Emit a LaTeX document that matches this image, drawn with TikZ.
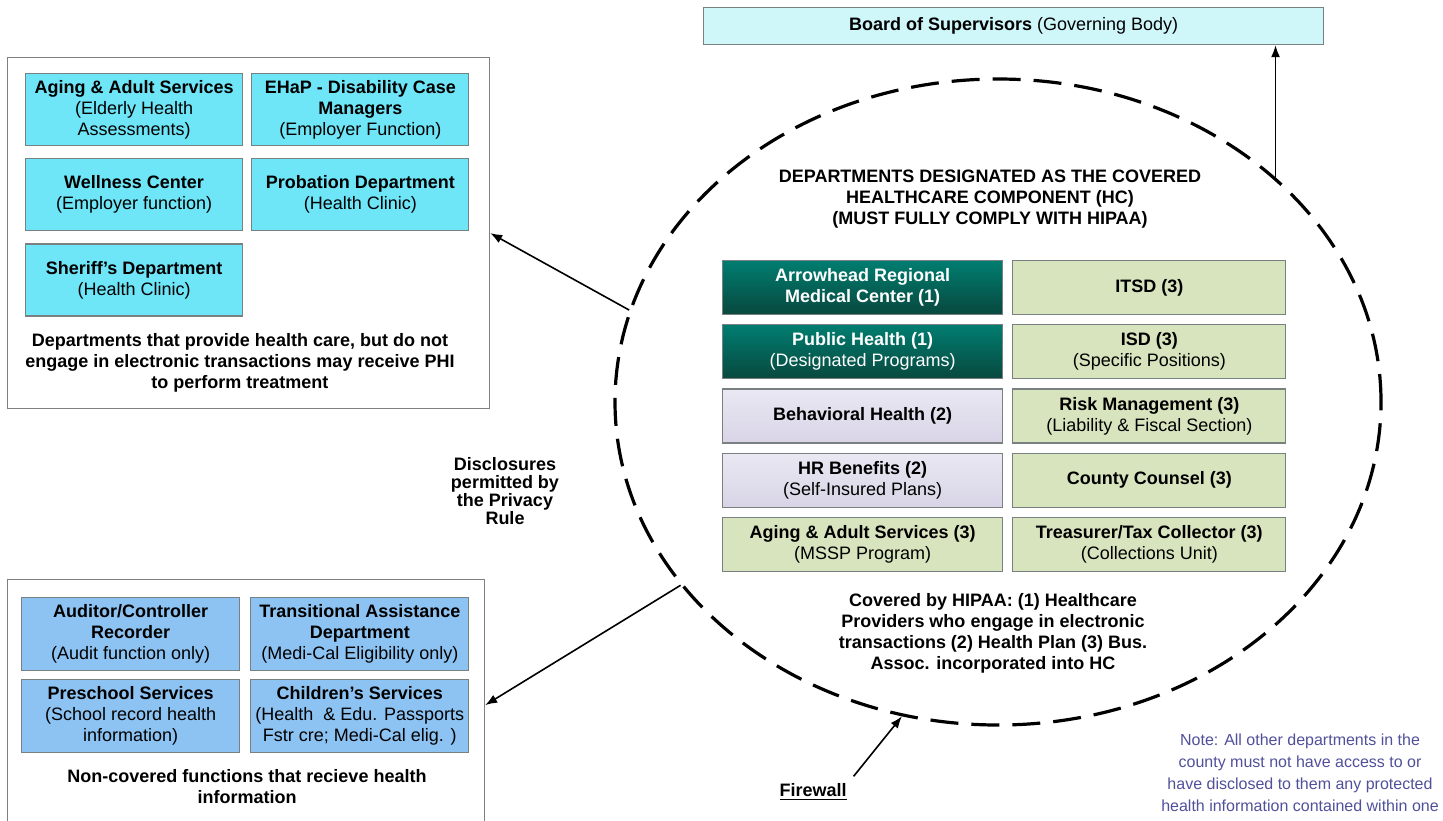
\documentclass[tikz,border=0pt]{standalone}
\usepackage{fontspec}
\setmainfont{Liberation Sans}
\usetikzlibrary{positioning}
\usetikzlibrary{shapes.geometric}
\usetikzlibrary{arrows.meta}

\definecolor{cyanbox}{RGB}{110,230,248}
\definecolor{bluebox}{RGB}{141,195,242}
\definecolor{boardfill}{RGB}{207,247,250}
\definecolor{tealtop}{RGB}{0,125,112}
\definecolor{tealbot}{RGB}{8,72,62}
\definecolor{lavtop}{RGB}{234,232,243}
\definecolor{lavbot}{RGB}{216,212,230}
\definecolor{olivefill}{RGB}{216,228,190}
\definecolor{notecol}{RGB}{80,80,155}
\definecolor{edgegray}{RGB}{120,128,130}
\definecolor{framegray}{RGB}{128,128,128}

\begin{document}
\begin{tikzpicture}[x=0.5pt, y=-0.5pt,
    every node/.style={font=\fontsize{9}{10.5}\selectfont, align=center},
    boldtext/.style={font=\fontsize{9}{10.5}\selectfont\bfseries},
    outerbox/.style={draw=framegray, line width=0.6pt, fill=white, anchor=north west, inner sep=0pt},
    deptbox/.style={draw=edgegray, line width=0.6pt, inner sep=1pt, minimum width=108.5pt, minimum height=36pt, fill=cyanbox},
    nonbox/.style={deptbox, fill=bluebox, minimum width=109pt, minimum height=36.5pt},
    boardbox/.style={draw=edgegray, line width=0.6pt, fill=boardfill, anchor=north west, minimum width=310pt, minimum height=18.5pt},
    hcbox/.style={draw=edgegray, line width=0.6pt, inner sep=1pt, minimum width=140pt, minimum height=27pt},
    tealbox/.style={hcbox, top color=tealtop, bottom color=tealbot, text=white},
    lavbox/.style={hcbox, top color=lavtop, bottom color=lavbot},
    olivebox/.style={hcbox, fill=olivefill, minimum width=136.5pt},
    hcring/.style={ellipse, draw, line width=1.6pt, dash pattern=on 14pt off 6.5pt, minimum width=383pt, minimum height=323pt, inner sep=0pt},
    arr/.style={-{Latex[length=6pt,width=4.5pt]}, line width=0.8pt}
  ]

    \useasboundingbox (0,0) rectangle (1443,820);

    %nodes: departments that provide health care
    \node[outerbox, minimum width=241pt, minimum height=175.5pt] (tlframe) at (7,57) {};
    \node[deptbox, anchor=north west] (aas) at (25,73) {\textbf{Aging \& Adult Services}\\(Elderly Health\\Assessments)};
    \node[deptbox, right=4pt of aas] (ehap) {\textbf{EHaP - Disability Case}\\\textbf{Managers}\\(Employer Function)};
    \node[deptbox, below=6pt of aas] (wc) {\textbf{Wellness Center}\\(Employer function)};
    \node[deptbox, below=6pt of ehap] (prob) {\textbf{Probation Department}\\(Health Clinic)};
    \node[deptbox, below=6pt of wc] (sheriff) {\textbf{Sheriff's Department}\\(Health Clinic)};
    \node[boldtext] (tlcap) at (240,363) {Departments that provide health care, but do not\\engage in electronic transactions may receive PHI\\to perform treatment};

    %nodes: non-covered functions
    \node[outerbox, minimum width=238.5pt, minimum height=125.5pt] (blframe) at (7,579) {};
    \node[nonbox, anchor=north west] (audit) at (21,597) {\textbf{Auditor/Controller}\\\textbf{Recorder}\\(Audit function only)};
    \node[nonbox, right=5pt of audit] (tad) {\textbf{Transitional Assistance}\\\textbf{Department}\\(Medi-Cal Eligibility only)};
    \node[nonbox, below=4pt of audit] (psd) {\textbf{Preschool Services}\\(School record health\\information)};
    \node[nonbox, below=4pt of tad] (cs) {\textbf{Children's Services}\\(Health~~\& Edu. Passports\\Fstr cre; Medi-Cal elig. )};
    \node[boldtext] (blcap) at (247,787) {Non-covered functions that recieve health\\information};

    %nodes: governing body
    \node[boardbox] (board) at (703,7) {\textbf{Board of Supervisors} (Governing Body)};

    %nodes: covered healthcare component
    \node[hcring] (hc) at (998,402) {};
    \node[boldtext] (hchead) at (990,199) {DEPARTMENTS DESIGNATED AS THE COVERED\\HEALTHCARE COMPONENT (HC)\\(MUST FULLY COMPLY WITH HIPAA)};
    \node[tealbox, anchor=north west] (armc) at (722,260) {\textbf{Arrowhead Regional}\\\textbf{Medical Center (1)}};
    \node[tealbox, below=4.5pt of armc] (ph) {\textbf{Public Health (1)}\\(Designated Programs)};
    \node[lavbox, below=4.5pt of ph] (bh) {\textbf{Behavioral Health (2)}};
    \node[lavbox, below=4.5pt of bh] (hrb) {\textbf{HR Benefits (2)}\\(Self-Insured Plans)};
    \node[olivebox, minimum width=140pt, below=4.5pt of hrb] (aas3) {\textbf{Aging \& Adult Services (3)}\\(MSSP Program)};
    \node[olivebox, right=4.5pt of armc] (itsd) {\textbf{ITSD (3)}};
    \node[olivebox, right=4.5pt of ph] (isd) {\textbf{ISD (3)}\\(Specific Positions)};
    \node[olivebox, right=4.5pt of bh] (risk) {\textbf{Risk Management (3)}\\(Liability \& Fiscal Section)};
    \node[olivebox, right=4.5pt of hrb] (cc) {\textbf{County Counsel (3)}};
    \node[olivebox, right=4.5pt of aas3] (ttc) {\textbf{Treasurer/Tax Collector (3)}\\(Collections Unit)};
    \node[boldtext] (hcnote) at (993,633) {Covered by HIPAA: (1) Healthcare\\Providers who engage in electronic\\transactions (2) Health Plan (3) Bus.\\Assoc. incorporated into HC};

    %nodes: labels
    \node[font=\fontsize{9}{9}\selectfont\bfseries] (disc) at (505,491) {Disclosures\\permitted by\\the Privacy\\Rule};
    \node[boldtext] (fw) at (813,792) {\underline{Firewall}};
    \node[text=notecol, font=\fontsize{8}{11}\selectfont] (note) at (1300,773) {Note: All other departments in the\\county must not have access to or\\have disclosed to them any protected\\health information contained within one};

    % edges
    \draw[arr] (hc.166) -- (tlframe.east);
    \draw[arr] (hc.210) -- (blframe.east);
    \draw[arr] (hc.39) -- (hc.39 |- board.south);
    \draw[arr] (fw.north east) -- (hc.253);

\end{tikzpicture}
\end{document}
